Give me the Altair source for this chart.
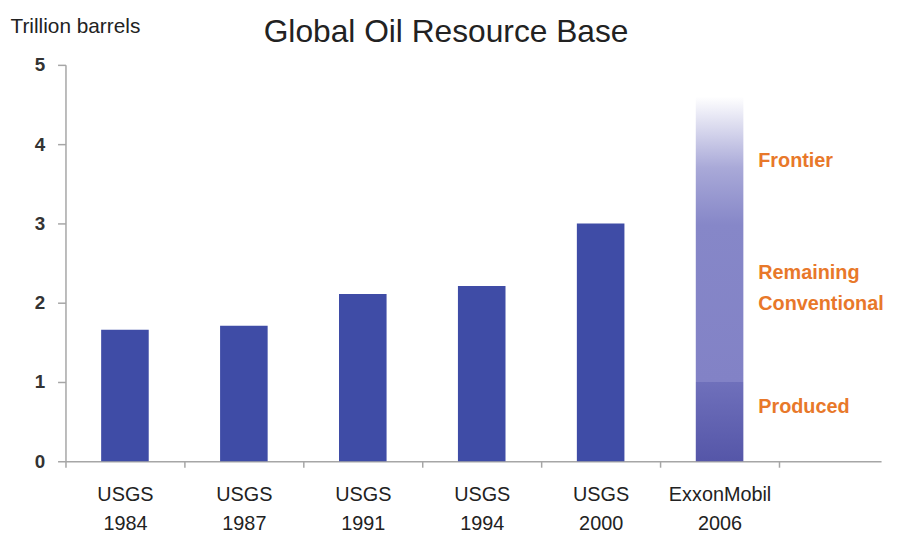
import altair as alt
import pandas as pd

# ---- data ----
categories = ["USGS|1984", "USGS|1987", "USGS|1991", "USGS|1994", "USGS|2000", "ExxonMobil|2006"]
usgs_categories = categories[:5]
usgs_values = [1.66, 1.71, 2.11, 2.21, 3.0]

exxon_category = categories[5]
produced_range = [0.0, 1.0]
resource_range = [1.0, 4.6]

annot_labels = ["Frontier", "Remaining\nConventional", "Produced"]
annot_values = [3.79, 2.37, 0.68]

y_ticks = [0, 1, 2, 3, 4, 5]

usgs_df = pd.DataFrame({"cat": usgs_categories, "value": usgs_values})
produced_df = pd.DataFrame({"cat": [exxon_category], "lo": [produced_range[0]], "hi": [produced_range[1]]})
resource_df = pd.DataFrame({"cat": [exxon_category], "lo": [resource_range[0]], "hi": [resource_range[1]]})
annot_df = pd.DataFrame({"cat": [exxon_category] * 3, "label": annot_labels, "value": annot_values})

FONT = "Liberation Sans"
GRAY = "#a6a6a6"
BAR_W = alt.RelativeBandSize(0.4)

x_enc = alt.X(
    "cat:N",
    scale=alt.Scale(domain=categories, paddingInner=0, paddingOuter=0.429, align=0),
    axis=alt.Axis(
        title=None,
        labelExpr="split(datum.label, '|')",
        labelAngle=0,
        labelFont=FONT,
        labelFontSize=20,
        labelColor="#222222",
        labelLineHeight=29,
        labelBaseline="top",
        labelPadding=18,
        tickBand="extent",
        tickSize=6,
        tickColor=GRAY,
        domainColor=GRAY,
        domainWidth=1.5,
        tickWidth=1.5,
    ),
)

y_scale = alt.Scale(domain=[0, 5], nice=False)
y_axis = alt.Axis(
    values=y_ticks,
    format="d",
    grid=False,
    title="Trillion barrels",
    titleAngle=0,
    titleAlign="left",
    titleBaseline="alphabetic",
    titleX=-56,
    titleY=-33,
    titleFont=FONT,
    titleFontSize=21,
    titleFontWeight="normal",
    titleColor="#222222",
    labelFont=FONT,
    labelFontSize=19,
    labelFontWeight="bold",
    labelColor="#333333",
    labelPadding=13,
    tickSize=8,
    tickColor=GRAY,
    tickWidth=1.5,
    domainColor=GRAY,
    domainWidth=1.5,
)

usgs = alt.Chart(usgs_df).mark_bar(color="#3f4ca6", width=BAR_W).encode(
    x=x_enc,
    y=alt.Y("value:Q", scale=y_scale, axis=y_axis),
)

produced = alt.Chart(produced_df).mark_bar(
    width=BAR_W,
    color=alt.Gradient(
        gradient="linear",
        x1=0, x2=0, y1=1, y2=0,
        stops=[
            alt.GradientStop(offset=0, color="#5556a8"),
            alt.GradientStop(offset=1, color="#6f70bb"),
        ],
    ),
).encode(x=alt.X("cat:N"), y=alt.Y("lo:Q"), y2="hi:Q")

resource = alt.Chart(resource_df).mark_bar(
    width=BAR_W,
    color=alt.Gradient(
        gradient="linear",
        x1=0, x2=0, y1=1, y2=0,
        stops=[
            alt.GradientStop(offset=0, color="#8282c6"),
            alt.GradientStop(offset=0.55, color="#8687c8"),
            alt.GradientStop(offset=0.75, color="#a9a9d8"),
            alt.GradientStop(offset=1, color="#ffffff"),
        ],
    ),
).encode(x=alt.X("cat:N"), y=alt.Y("lo:Q"), y2="hi:Q")

annots = alt.Chart(annot_df).mark_text(
    align="left",
    baseline="middle",
    dx=39,
    font=FONT,
    fontSize=20,
    fontWeight="bold",
    color="#e8782a",
    lineBreak="\n",
    lineHeight=31,
).encode(x=alt.X("cat:N"), y=alt.Y("value:Q"), text="label:N")

chart = (
    alt.layer(usgs, produced, resource, annots)
    .properties(
        width=823,
        height=400,
        autosize=alt.AutoSizeParams(type="none"),
        padding={"left": 58, "top": 55, "right": 8, "bottom": 70},
        title=alt.TitleParams(
            text="Global Oil Resource Base",
            font=FONT,
            fontSize=32,
            fontWeight="normal",
            color="#222222",
            anchor="start",
            frame="group",
            dx=200,
            dy=63,
            baseline="alphabetic",
        ),
    )
    .configure_view(stroke=None)
)

chart.save("out.html", embed_options={"renderer": "svg", "actions": False})
